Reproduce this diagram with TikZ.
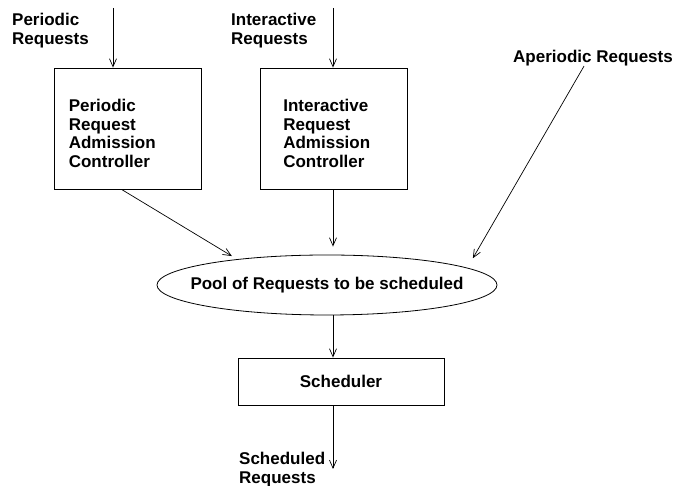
\documentclass[tikz,border=0pt]{standalone}
\usepackage{fontspec}
\setmainfont{Liberation Sans}
\usetikzlibrary{shapes.geometric,arrows.meta}

\tikzset{
  lbl/.style={inner sep=0pt, align=left, font=\bfseries\fontsize{17}{18.5}\selectfont},
  ctrlbox/.style={draw, line width=0.8pt, minimum width=147pt, minimum height=121pt},
  pool/.style={draw, ellipse, line width=0.8pt, minimum width=340pt, minimum height=60pt,
    inner sep=0pt},
  schedbox/.style={draw, line width=0.8pt, minimum width=206pt, minimum height=47pt,
    font=\bfseries\fontsize{17}{18.5}\selectfont},
  flow/.style={->, line width=0.7pt}
}

\begin{document}
\begin{tikzpicture}[x=1pt,y=1pt,>={Straight Barb[length=8pt,width=7pt]}]
\useasboundingbox (0,0) rectangle (677,486);

% input labels
\node[lbl, anchor=west] (plbl) at (12,455.5) {Periodic\\Requests};
\node[lbl, anchor=west] (ilbl) at (231,455.5) {Interactive\\Requests};
\node[lbl] (albl) at (593,428) {Aperiodic Requests};

% admission controllers
\node[ctrlbox, label={[lbl, anchor=west, xshift=15pt, yshift=-5pt]west:{Periodic\\Request\\Admission\\Controller}}]
  (per) at (127.5,357.5) {};
\node[ctrlbox, label={[lbl, anchor=west, xshift=23pt, yshift=-5pt]west:{Interactive\\Request\\Admission\\Controller}}]
  (int) at (334,357.5) {};

\node[pool, label={[lbl]center:Pool of Requests to be scheduled}] (ell) at (327,201) {};
\node[schedbox] (sched) at (341,104.5) {Scheduler};
\node[lbl, anchor=west] (slbl) at (239,16.5) {Scheduled\\Requests};

\coordinate (ptop) at (113,478);
\coordinate (itop) at (333,478);
\coordinate (sout) at (333,17);

\draw[flow] (ptop) -- (ptop |- per.north);
\draw[flow] (itop) -- (itop |- int.north);
\draw[flow, shorten >=6pt] ([xshift=-6pt]per.south) -- (ell.164);
\draw[flow, shorten >=8pt] (itop |- int.south) -- (itop |- ell.north);
\draw[flow, shorten >=11pt] ([xshift=-9pt]albl.south) -- (ell.7);
\draw[flow] (itop |- ell.south) -- (itop |- sched.north);
\draw[flow] (itop |- sched.south) -- (sout);
\end{tikzpicture}
\end{document}
